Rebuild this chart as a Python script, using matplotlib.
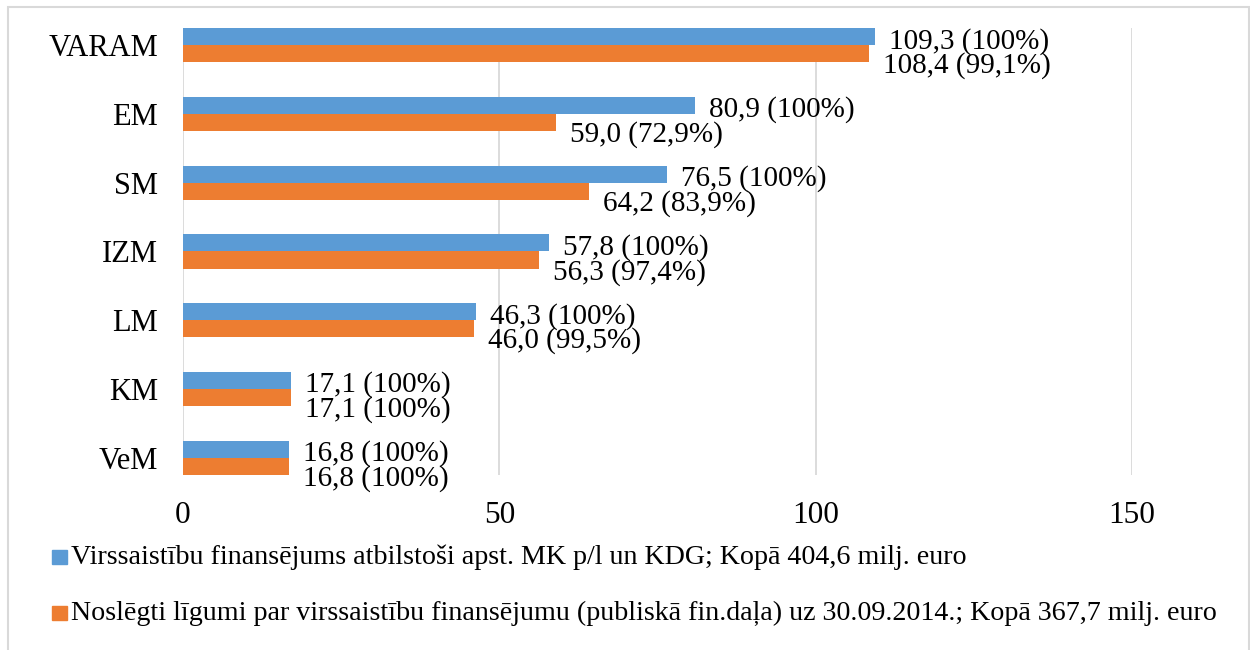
import numpy as np
import matplotlib.pyplot as plt
from matplotlib.patches import Rectangle

# data
ministries = ['VARAM', 'EM', 'SM', 'IZM', 'LM', 'KM', 'VeM']
planned = [109.3, 80.9, 76.5, 57.8, 46.3, 17.1, 16.8]
contracted = [108.4, 59.0, 64.2, 56.3, 46.0, 17.1, 16.8]
contracted_pct = ['99,1%', '72,9%', '83,9%', '97,4%', '99,5%', '100%', '100%']
x_ticks = [0, 50, 100, 150]
legend_labels = [
    'Virssaistību finansējums atbilstoši apst. MK p/l un KDG; Kopā 404,6 milj. euro',
    'Noslēgti līgumi par virssaistību finansējumu (publiskā fin.daļa) uz 30.09.2014.; Kopā 367,7 milj. euro',
]

blue = '#5B9BD5'
orange = '#ED7D31'
grid_col = '#D9D9D9'

plt.rcParams['font.family'] = ['Liberation Serif', 'DejaVu Serif']

W, H = 1250, 650
fig = plt.figure(figsize=(W / 100, H / 100), dpi=100)
ax = fig.add_axes([183 / W, 1 - 475 / H, (1132 - 183) / W, (475 - 28) / H])

y = np.arange(len(ministries))
h = 0.25
ax.barh(y - h / 2, planned, height=h, color=blue, zorder=3)
ax.barh(y + h / 2, contracted, height=h, color=orange, zorder=3)

def fmt(v):
    return f'{v:.1f}'.replace('.', ',')

# value labels, orange ones pushed a little lower like in the original
for i in range(len(ministries)):
    ax.annotate(f'{fmt(planned[i])} (100%)', (planned[i], y[i] - h / 2),
                xytext=(14, -4.5), textcoords='offset pixels',
                ha='left', va='center', fontsize=21, clip_on=False)
    ax.annotate(f'{fmt(contracted[i])} ({contracted_pct[i]})', (contracted[i], y[i] + h / 2),
                xytext=(14, -12), textcoords='offset pixels',
                ha='left', va='center', fontsize=21, clip_on=False)

ax.set_xlim(0, 150)
ax.set_ylim(len(ministries) - 0.5 - 0.25, -0.25)
ax.set_xticks(x_ticks)
ax.set_xticklabels([str(t) for t in x_ticks], fontsize=22.5)
ax.set_yticks(y)
ax.set_yticklabels(ministries, fontsize=22)
ax.tick_params(length=0)
ax.tick_params(axis='x', pad=19)
ax.tick_params(axis='y', pad=18)
ax.grid(axis='x', color=grid_col, lw=1.3, zorder=0)
for s in ax.spines.values():
    s.set_visible(False)

# legend, drawn by hand
colors = [blue, orange]
for i, lab in enumerate(legend_labels):
    yc = 557 + 56 * i
    fig.patches.append(Rectangle((52 / W, 1 - (yc + 7) / H), 15 / W, 14 / H,
                                 transform=fig.transFigure, color=colors[i]))
    fig.text(71 / W, 1 - yc / H, lab, fontsize=20.2, ha='left', va='center')

# outer border
fig.patches.append(Rectangle((8 / W, -0.01), (1249 - 8) / W, 1.01 - 7 / H,
                             transform=fig.transFigure, fill=False,
                             edgecolor=grid_col, lw=1.5))

fig.savefig('out.png', dpi=100)
